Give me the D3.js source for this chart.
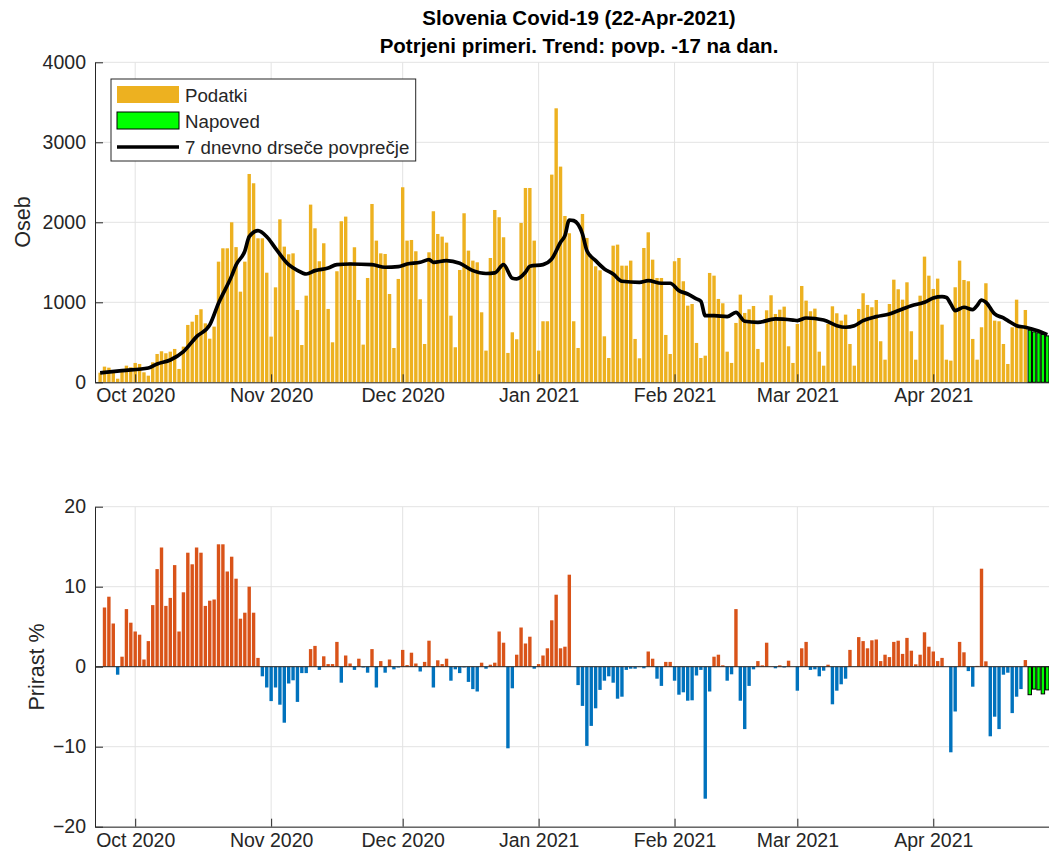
<!DOCTYPE html>
<html>
<head>
<meta charset="utf-8">
<script src="https://cdn.jsdelivr.net/npm/d3@7"></script>
<style>
  body { margin: 0; background: #fff; }
  text { font-family: "Liberation Sans", Arial, Helvetica, sans-serif; }
</style>
</head>
<body>
<script>
// first day with data, every array below is one value per day from here
var firstDay = "2020-09-23";

// confirmed cases per day (Podatki)
var cases = [
  120, 196, 183, 130, 45, 130, 208, 188, 242, 229, 125, 83, 250, 354,
  388, 363, 383, 417, 167, 446, 717, 758, 842, 913, 737, 545, 696, 1508,
  1675, 1675, 2000, 1690, 1133, 1508, 2604, 2488, 1800, 1800, 1370, 571, 1187, 2037,
  1696, 1600, 1612, 904, 466, 1083, 2221, 1925, 1513, 1738, 917, 500, 1388, 2013,
  2071, 1500, 1688, 1029, 471, 1304, 2229, 1771, 1612, 1604, 1104, 429, 1292, 2438,
  1771, 1779, 1638, 1038, 479, 1625, 2138, 1854, 1821, 1746, 833, 438, 1404, 2113,
  1646, 1521, 1500, 875, 396, 1554, 2154, 2063, 1813, 367, 625, 538, 1992, 2429,
  2429, 1771, 396, 763, 763, 2596, 3425, 2696, 2079, 1863, 763, 429, 2104, 1804,
  1554, 1450, 1400, 575, 304, 1708, 1721, 1458, 1458, 1521, 542, 300, 1679, 1875,
  1533, 1304, 1304, 592, 354, 1513, 1554, 1263, 958, 979, 492, 304, 333, 1367,
  1333, 1042, 988, 383, 242, 742, 1096, 867, 913, 954, 417, 250, 900, 1088,
  854, 908, 946, 450, 242, 729, 1204, 1021, 888, 921, 383, 208, 729, 950,
  863, 771, 846, 479, 208, 917, 1113, 967, 938, 1029, 513, 283, 979, 1283,
  1163, 1033, 1250, 638, 283, 1083, 1571, 1333, 1167, 1296, 721, 283, 271, 1188,
  1521, 1279, 1263, 542, 283, 688, 1238, 917, 771, 763, 479, 229, 688, 1033,
  688, 904
];

// forecast for the days after the data (Napoved)
var forecast = [652, 630, 618, 598, 580];

// growth in %, starts one day after firstDay
var growth = [
  7.4, 8.75, 5.4, -1.0, 1.25, 7.2, 5.5, 4.4, 4.0, 0.9, 3.2, 7.7, 12.2,
  14.9, 7.6, 8.6, 12.7, 4.4, 9.3, 14.25, 12.8, 14.9, 14.25, 7.6, 8.25, 8.4,
  15.3, 15.3, 11.9, 13.75, 11.0, 6.0, 6.75, 10.0, 6.75, 1.1, -1.2, -2.6, -4.3,
  -2.6, -4.75, -7.0, -2.1, -1.7, -4.4, -0.8, -0.8, 2.2, 2.6, -0.4, 1.3, 0.33,
  0.33, 3.1, -2.0, 1.4, 0.4, -0.4, 1.0, -0.1, -0.75, 2.2, -2.6, 0.7, -0.75,
  0.9, -0.33, -0.1, 2.1, 0.2, 1.75, 0.4, -0.6, 0.6, 3.25, -2.6, 0.8, 0.33,
  1.0, -1.75, -0.33, -0.8, -0.1, -1.9, -2.8, -3.1, 0.5, -0.25, 0.25, 0.5, 4.4,
  3.0, -10.2, -2.7, 1.5, 4.9, 2.9, 3.75, -0.25, 0.33, 1.4, 2.3, 5.8, 9.0,
  2.3, 2.5, 11.5, 0.0, -2.3, -4.9, -9.9, -7.4, -5.2, -2.9, -1.75, -1.2, -2.0,
  -4.0, -3.75, -0.4, -0.25, -0.25, -0.05, -0.2, 1.9, 1.0, -1.5, -2.4, 0.6, 0.6,
  -1.75, -3.5, -3.2, -4.25, -4.2, -1.1, -0.4, -16.5, -3.1, 1.25, 1.5, 0.17, -1.75,
  -0.95, 7.2, -4.25, -7.8, -2.4, -0.33, 0.7, 0.17, 3.0, 0.0, -0.2, 0.17, -0.1,
  0.75, 0.0, -3.0, 2.3, 3.1, -0.4, -0.33, -1.2, -0.5, 0.25, -4.7, -3.0, -2.2,
  -1.5, 2.1, 0.0, 3.7, 3.2, 2.3, 3.3, 3.4, 0.7, 1.5, 1.2, 3.1, 3.25,
  1.6, 3.6, 2.0, 0.3, 1.5, 4.3, 2.5, 1.9, 0.7, 1.1, 0.0, -10.7, -5.6,
  3.1, 1.8, -0.55, -2.5, 0.1, 12.25, 0.67, -8.7, -6.25, -7.8, -1.0, -0.75, -5.8,
  -3.75, -2.8, 0.83
];
var growthForecast = [-3.5, -2.8, -2.9, -3.4, -2.9];

// 7 day moving average (day index from firstDay, value)
var trendDay = [0, 5, 11, 13, 16, 19, 22, 25, 27, 30, 31, 33, 34, 36, 38, 40, 43, 45, 47, 49, 52,
  54, 57, 62, 65, 68, 70, 73, 75, 76, 79, 82, 85, 88, 90, 92, 94, 95, 97, 98, 101,
  103, 105, 106, 107, 108, 110, 111, 113, 115, 117, 119, 123, 125, 128, 130, 132, 134, 136, 137, 138,
  140, 143, 145, 147, 150, 154, 158, 159, 161, 165, 168, 170, 172, 174, 177, 180, 183, 185, 188, 190,
  192, 193, 194, 195, 197, 199, 200, 201, 202, 204, 206, 207, 209, 211, 214, 216];
var trendValue = [117, 146, 179, 229, 279, 383, 571, 717, 988, 1330, 1467, 1640, 1821, 1896, 1820, 1675, 1470, 1400, 1354, 1396, 1429,
  1471, 1479, 1471, 1438, 1446, 1479, 1500, 1533, 1500, 1521, 1488, 1396, 1360, 1367, 1471, 1300, 1292, 1375, 1450, 1471,
  1542, 1750, 1833, 2029, 2021, 1854, 1646, 1521, 1417, 1354, 1263, 1250, 1271, 1238, 1238, 1146, 1104, 1042, 1013, 833,
  833, 821, 875, 763, 750, 792, 778, 772, 804, 779, 708, 688, 708, 771, 821, 854, 917, 958, 1000, 1054,
  1071, 1060, 979, 896, 938, 908, 960, 1029, 1000, 854, 804, 771, 708, 688, 640, 596];

var monthTicks = ["2020-10-01", "2020-11-01", "2020-12-01", "2021-01-01", "2021-02-01", "2021-03-01", "2021-04-01"];
var monthLabels = ["Oct 2020", "Nov 2020", "Dec 2020", "Jan 2021", "Feb 2021", "Mar 2021", "Apr 2021"];
var caseTicks = [0, 1000, 2000, 3000, 4000];
var growthTicks = [-20, -10, 0, 10, 20];

var title1 = "Slovenia Covid-19 (22-Apr-2021)";
var title2 = "Potrjeni primeri. Trend: povp. -17 na dan.";
var legendLabels = ["Podatki", "Napoved", "7 dnevno drseče povprečje"];

var C_CASES = "#EDB120", C_UP = "#D95319", C_DOWN = "#0072BD", C_FC = "#00FF00",
    C_AX = "#262626", C_GRID = "#e3e3e3";

var parse = d3.utcParse("%Y-%m-%d");
var start = parse(firstDay);
var dayOf = function(i) { return d3.utcDay.offset(start, i); };

var W = 1049, H = 860;
var svg = d3.select("body").append("svg").attr("width", W).attr("height", H);

// axes reach past the right border of the picture, as in the original export
var x = d3.scaleUtc()
    .domain([Date.UTC(2020, 8, 21, 20), Date.UTC(2021, 3, 30, 14)])
    .range([95, 1063]);
var bw = 3.4;

var y1 = d3.scaleLinear().domain([0, 4000]).range([382.3, 62.3]);
var y2 = d3.scaleLinear().domain([-20, 20]).range([826.7, 506.7]);

function frame(y, ticks) {
  var g = svg.append("g");
  // grid
  g.selectAll(".gy").data(ticks).enter().append("line")
    .attr("x1", x.range()[0]).attr("x2", x.range()[1])
    .attr("y1", function(d) { return y(d); }).attr("y2", function(d) { return y(d); })
    .attr("stroke", C_GRID).attr("stroke-width", 1);
  g.selectAll(".gx").data(monthTicks).enter().append("line")
    .attr("x1", function(d) { return x(parse(d)); }).attr("x2", function(d) { return x(parse(d)); })
    .attr("y1", y.range()[0]).attr("y2", y.range()[1])
    .attr("stroke", C_GRID).attr("stroke-width", 1);
  return g;
}

function axes(y, ticks) {
  var ax = svg.append("g").attr("transform", "translate(0," + y.range()[0] + ")")
    .call(d3.axisBottom(x)
      .tickValues(monthTicks.map(parse))
      .tickFormat(function(d, i) { return monthLabels[i]; })
      .tickSizeInner(-8).tickSizeOuter(0).tickPadding(6));
  var ay = svg.append("g").attr("transform", "translate(" + x.range()[0] + ",0)")
    .call(d3.axisLeft(y).tickValues(ticks).tickFormat(d3.format("d"))
      .tickSizeInner(-8).tickSizeOuter(0).tickPadding(9));
  [ax, ay].forEach(function(a) {
    a.attr("font-family", null).attr("font-size", null);
    a.select(".domain").attr("stroke", C_AX);
    a.selectAll(".tick line").attr("stroke", C_AX);
    a.selectAll(".tick text").attr("fill", C_AX).style("font-size", "19.5px");
  });
}

// ---------- top panel ----------
frame(y1, caseTicks);

svg.append("g").selectAll("rect").data(cases).enter().append("rect")
  .attr("x", function(d, i) { return x(dayOf(i)) - bw / 2; })
  .attr("y", function(d) { return y1(d); })
  .attr("width", bw)
  .attr("height", function(d) { return y1(0) - y1(d); })
  .attr("fill", C_CASES);

svg.append("g").selectAll("rect").data(forecast).enter().append("rect")
  .attr("x", function(d, i) { return x(dayOf(cases.length + i)) - bw / 2; })
  .attr("y", function(d) { return y1(d); })
  .attr("width", bw)
  .attr("height", function(d) { return y1(0) - y1(d); })
  .attr("fill", C_FC).attr("stroke", "#000").attr("stroke-width", 1);

var trend = d3.line()
  .x(function(d) { return x(dayOf(d)); })
  .y(function(d, i) { return y1(trendValue[i]); })
  .curve(d3.curveMonotoneX);
svg.append("path").datum(trendDay)
  .attr("d", trend).attr("fill", "none")
  .attr("stroke", "#000").attr("stroke-width", 3.7).attr("stroke-linejoin", "round");

axes(y1, caseTicks);

svg.append("text").attr("transform", "translate(22,222) rotate(-90)")
  .attr("text-anchor", "middle").attr("dy", "0.35em")
  .style("font-size", "21.5px").attr("fill", C_AX).text("Oseb");

// legend
var lg = svg.append("g");
lg.append("rect").attr("x", 111).attr("y", 79).attr("width", 304.7).attr("height", 82)
  .attr("fill", "#fff").attr("stroke", C_AX).attr("stroke-width", 1);
lg.append("rect").attr("x", 117).attr("y", 86).attr("width", 62).attr("height", 17).attr("fill", C_CASES);
lg.append("rect").attr("x", 117).attr("y", 112).attr("width", 62).attr("height", 17)
  .attr("fill", C_FC).attr("stroke", "#000").attr("stroke-width", 1);
lg.append("line").attr("x1", 117).attr("x2", 179).attr("y1", 147).attr("y2", 147)
  .attr("stroke", "#000").attr("stroke-width", 3.7);
lg.selectAll("text").data(legendLabels).enter().append("text")
  .attr("x", 185).attr("y", function(d, i) { return 95 + i * 26; })
  .attr("dy", "0.35em").style("font-size", "18.7px").attr("fill", C_AX)
  .text(function(d) { return d; });

// titles
svg.append("text").attr("x", 579).attr("y", 18).attr("dy", "0.35em").attr("text-anchor", "middle")
  .style("font-size", "20.5px").style("font-weight", "bold").attr("fill", "#000").text(title1);
svg.append("text").attr("x", 579).attr("y", 46).attr("dy", "0.35em").attr("text-anchor", "middle")
  .style("font-size", "20.5px").style("font-weight", "bold").attr("fill", "#000").text(title2);

// ---------- bottom panel ----------
frame(y2, growthTicks);

svg.append("g").selectAll("rect").data(growth).enter().append("rect")
  .attr("x", function(d, i) { return x(dayOf(i + 1)) - bw / 2; })
  .attr("y", function(d) { return y2(Math.max(0, d)); })
  .attr("width", bw)
  .attr("height", function(d) { return Math.abs(y2(d) - y2(0)); })
  .attr("fill", function(d) { return d >= 0 ? C_UP : C_DOWN; });

svg.append("g").selectAll("rect").data(growthForecast).enter().append("rect")
  .attr("x", function(d, i) { return x(dayOf(cases.length + i)) - bw / 2; })
  .attr("y", function(d) { return y2(Math.max(0, d)); })
  .attr("width", bw)
  .attr("height", function(d) { return Math.abs(y2(d) - y2(0)); })
  .attr("fill", C_FC).attr("stroke", "#000").attr("stroke-width", 1);

// bar base line
svg.append("line").attr("x1", x.range()[0]).attr("x2", x.range()[1])
  .attr("y1", y2(0)).attr("y2", y2(0)).attr("stroke", C_AX).attr("stroke-width", 1);

axes(y2, growthTicks);

svg.append("text").attr("transform", "translate(36,667) rotate(-90)")
  .attr("text-anchor", "middle").attr("dy", "0.35em")
  .style("font-size", "21.5px").attr("fill", C_AX).text("Prirast %");
</script>
</body>
</html>
